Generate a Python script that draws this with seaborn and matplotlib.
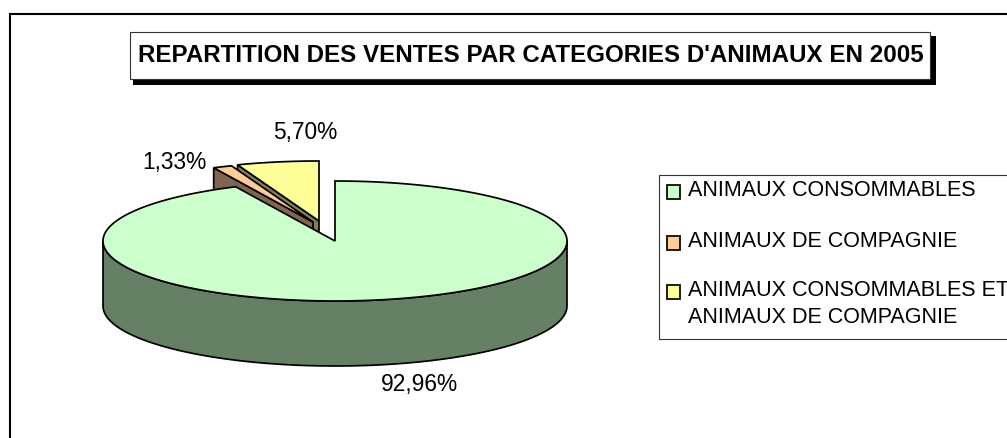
import numpy as np
import matplotlib
matplotlib.use("Agg")
import matplotlib.pyplot as plt
from matplotlib.patches import Polygon, Rectangle
import seaborn as sns

titre = "REPARTITION DES VENTES PAR CATEGORIES D'ANIMAUX EN 2005"
categories = ["ANIMAUX CONSOMMABLES", "ANIMAUX DE COMPAGNIE",
              "ANIMAUX CONSOMMABLES ET\nANIMAUX DE COMPAGNIE"]
parts = [92.96, 1.33, 5.70]
etiquettes = ["92,96%", "1,33%", "5,70%"]
couleurs = ["#CCFFCC", "#FFCC99", "#FFFF99"]
couleurs_cote = ["#668066", "#806650", "#808050"]

sns.set_theme(style="white")
plt.rcParams['font.family'] = ['Liberation Sans', 'DejaVu Sans']

fig, ax = plt.subplots(figsize=(10.07, 4.38), dpi=100)
ax.set_position([0, 0, 1, 1])
ax.set_xlim(0, 1007)
ax.set_ylim(438, 0)
ax.axis('off')

# cadre du graphique (coupe a droite et en bas comme sur l'original)
ax.add_patch(Rectangle((9.5, 13.5), 1100, 600, fc='white', ec='black', lw=1.5, zorder=0))

# camembert en perspective
CX, CY, A, B, H = 335, 241, 232, 60, 65
LW = 1.25


def arc(cx, cy, deb, fin, n=80):
    t = np.radians(np.linspace(deb, fin, n))
    return np.column_stack([cx + A * np.sin(t), cy - B * np.cos(t)])


# angles dans le sens horaire depuis midi
fin_grand = 360 * parts[0] / 100
fin_orange = fin_grand + 360 * parts[1] / 100
centres = [(CX, CY), (313, 222), (319, 221)]
angles = [(0, fin_grand), (fin_grand, fin_orange), (fin_orange, 360)]

# parts detachees d'abord : jaune, puis orange par-dessus, la grande part devant
for i in [2, 1]:
    cx, cy = centres[i]
    deb, fin = angles[i]
    bord = arc(cx, cy, deb, fin, 20)
    p0 = np.array([cx, cy])
    face = np.array([bord[0], p0, p0 + [0, H], bord[0] + [0, H]])
    ax.add_patch(Polygon(face, fc=couleurs_cote[i], ec='black', lw=LW, zorder=4 - i))
    dessus = np.vstack([p0, bord])
    ax.add_patch(Polygon(dessus, fc=couleurs[i], ec='black', lw=LW, zorder=4 - i))

# flanc avant de la grande part
avant = arc(CX, CY, 90, 270)
flanc = np.vstack([avant, (avant + [0, H])[::-1]])
ax.add_patch(Polygon(flanc, fc=couleurs_cote[0], ec='black', lw=LW, zorder=5))
dessus = np.vstack([[CX, CY], arc(CX, CY, *angles[0], 300)])
ax.add_patch(Polygon(dessus, fc=couleurs[0], ec='black', lw=LW, zorder=6))

# etiquettes
pos_etiquettes = [(419.5, 385), (174.5, 163), (305.5, 132)]
for txt, (x, y) in zip(etiquettes, pos_etiquettes):
    ax.text(x, y, txt, fontsize=16.4, color='black', ha='center', va='center', zorder=7)

# titre avec ombre
ax.add_patch(Rectangle((133, 36), 803, 49, fc='black', ec='none', zorder=7))
ax.add_patch(Rectangle((130, 32), 800, 47, fc='white', ec='#333333', lw=0.8, zorder=8))
ax.text(530.5, 55, titre, fontsize=17.4, fontweight='bold', color='black',
        ha='center', va='center', zorder=9)

# legende
ax.add_patch(Rectangle((659, 175), 500, 164, fc='white', ec='#333333', lw=0.8, zorder=10))
pos_legende = [180, 231, 280]
for nom, c, y in zip(categories, couleurs, pos_legende):
    ax.add_patch(Rectangle((666.5, y + 5), 13.5, 13.5, fc=c, ec='black', lw=1.25, zorder=11))
    ax.text(688, y, nom, fontsize=15.5, color='black', ha='left', va='top',
            linespacing=1.38, zorder=11)

fig.savefig("out.png", dpi=100, facecolor='white')
